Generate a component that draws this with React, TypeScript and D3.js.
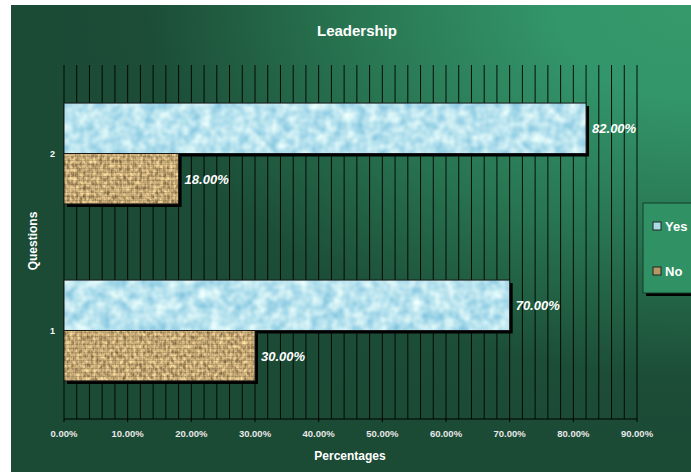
import * as d3 from 'd3';

const questions = ['2', '1'];
const yesValues: Record<string, number> = { '1': 70, '2': 82 };
const noValues: Record<string, number> = { '1': 30, '2': 18 };
const seriesNames = ['Yes', 'No'];
const xTickValues = [0, 10, 20, 30, 40, 50, 60, 70, 80, 90];

const W = 691;
const H = 472;
const plot = { left: 64, right: 637, top: 65, bottom: 419 };
const font = '"Liberation Sans", Arial, sans-serif';

export default function App() {
    const x = d3.scaleLinear().domain([0, 90]).range([plot.left, plot.right]);
    const y = d3
        .scaleBand()
        .domain(questions)
        .range([plot.top, plot.bottom])
        .paddingInner(0.43)
        .paddingOuter(0.215);
    const ySub = d3.scaleBand().domain(seriesNames).range([0, y.bandwidth()]);

    // minor grid every 2%
    const gridValues = d3.range(0, 90.001, 2);

    const bars = questions.flatMap((q) => [
        { q, s: 'Yes', v: yesValues[q] },
        { q, s: 'No', v: noValues[q] },
    ]);

    return (
        <svg
            width={W}
            height={H}
            style={{ position: 'absolute', left: 0, top: 0, fontFamily: font }}
        >
            <defs>
                <radialGradient id="bg" cx="1" cy="0" r="1" fx="1" fy="0">
                    <stop offset="0" stopColor="#35996b" />
                    <stop offset="0.2" stopColor="#33956a" />
                    <stop offset="0.5" stopColor="#287551" />
                    <stop offset="0.8" stopColor="#1c4d37" />
                    <stop offset="1" stopColor="#1b4a35" />
                </radialGradient>
                <filter id="water" x="0" y="0" width="1" height="1" colorInterpolationFilters="sRGB">
                    <feTurbulence type="fractalNoise" baseFrequency="0.09" numOctaves="2" seed="4" result="n" />
                    <feColorMatrix
                        in="n"
                        type="matrix"
                        values="0.55 0 0 0 0.45  0.3 0 0 0 0.74  0.15 0 0 0 0.86  0 0 0 0 1"
                    />
                    <feComposite in2="SourceAlpha" operator="in" />
                </filter>
                <filter id="burlap" x="0" y="0" width="1" height="1" colorInterpolationFilters="sRGB">
                    <feTurbulence type="fractalNoise" baseFrequency="0.3 0.22" numOctaves="2" seed="7" result="n" />
                    <feColorMatrix
                        in="n"
                        type="matrix"
                        values="0.8 0 0 0 0.37  0.75 0 0 0 0.28  0.6 0 0 0 0.15  0 0 0 0 1"
                    />
                    <feComposite in2="SourceAlpha" operator="in" />
                </filter>
                <pattern id="weave" width="4" height="4" patternUnits="userSpaceOnUse">
                    <rect width="4" height="4" fill="none" />
                    <line x1="0" y1="0.5" x2="4" y2="0.5" stroke="#6e5533" strokeOpacity="0.3" />
                    <line x1="2.5" y1="0" x2="2.5" y2="4" stroke="#f2e2b8" strokeOpacity="0.3" />
                </pattern>
            </defs>

            <rect x={11} y={5} width={W - 11} height={H - 5} fill="url(#bg)" />

            <text x={357} y={36} textAnchor="middle" fill="#fff" fontSize={15} fontWeight="bold">
                Leadership
            </text>

            {/* grid */}
            {gridValues.map((g) => (
                <line
                    key={g}
                    x1={x(g)}
                    x2={x(g)}
                    y1={plot.top}
                    y2={plot.bottom}
                    stroke="#000"
                    strokeWidth={1}
                    strokeOpacity={0.9}
                />
            ))}
            <line x1={plot.left} x2={plot.right} y1={plot.bottom} y2={plot.bottom} stroke="#000" />
            {xTickValues.map((t) => (
                <g key={t}>
                    <line x1={x(t)} x2={x(t)} y1={plot.bottom} y2={plot.bottom + 3} stroke="#000" />
                    <text
                        x={x(t)}
                        y={437}
                        textAnchor="middle"
                        fill="#e8e8e8"
                        fontSize={9.5}
                        fontWeight="bold"
                    >
                        {t.toFixed(2)}%
                    </text>
                </g>
            ))}

            {/* bars */}
            {bars.map((b) => {
                const by = (y(b.q) as number) + (ySub(b.s) as number);
                const bh = ySub.bandwidth();
                const bw = x(b.v) - x(0);
                return (
                    <g key={b.q + b.s}>
                        <rect x={x(0) + 3} y={by + 3} width={bw} height={bh} fill="#000" />
                        <rect
                            x={x(0)}
                            y={by}
                            width={bw}
                            height={bh}
                            fill="#fff"
                            filter={b.s === 'Yes' ? 'url(#water)' : 'url(#burlap)'}
                        />
                        {b.s === 'No' && (
                            <rect x={x(0)} y={by} width={bw} height={bh} fill="url(#weave)" />
                        )}
                        <rect
                            x={x(0)}
                            y={by}
                            width={bw}
                            height={bh}
                            fill="none"
                            stroke="#1a1a1a"
                            strokeWidth={1}
                        />
                        <text
                            x={x(b.v) + 6}
                            y={by + bh / 2 + 5}
                            fill="#fff"
                            fontSize={13}
                            fontWeight="bold"
                            fontStyle="italic"
                        >
                            {b.v.toFixed(2)}%
                        </text>
                    </g>
                );
            })}

            {/* category labels */}
            {questions.map((q) => (
                <text
                    key={q}
                    x={55}
                    y={(y(q) as number) + y.bandwidth() / 2 + 3}
                    textAnchor="end"
                    fill="#fff"
                    fontSize={9}
                    fontWeight="bold"
                >
                    {q}
                </text>
            ))}

            <text
                transform={`translate(37, 241) rotate(-90)`}
                textAnchor="middle"
                fill="#fff"
                fontSize={12}
                fontWeight="bold"
            >
                Questions
            </text>
            <text x={350} y={460} textAnchor="middle" fill="#fff" fontSize={12} fontWeight="bold">
                Percentages
            </text>

            {/* legend */}
            <rect x={646} y={206} width={60} height={90} fill="#000" />
            <rect x={643} y={203} width={60} height={90} fill="#2f9164" stroke="#173d2b" strokeWidth={1} />
            {seriesNames.map((s, i) => (
                <g key={s} transform={`translate(653, ${222 + i * 45})`}>
                    <rect
                        width={8}
                        height={8}
                        fill={s === 'Yes' ? '#a9dbe6' : '#b69766'}
                        stroke="#222"
                        strokeWidth={1}
                    />
                    <text x={12} y={9} fill="#fff" fontSize={13} fontWeight="bold">
                        {s}
                    </text>
                </g>
            ))}
        </svg>
    );
}
